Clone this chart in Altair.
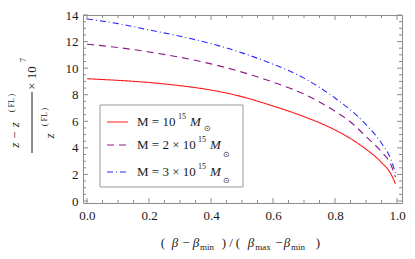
import altair as alt
import pandas as pd
import numpy as np

# ---- data ----
x_vals = [0.0, 0.1, 0.2, 0.3, 0.4, 0.5, 0.6, 0.7, 0.8, 0.85, 0.9, 0.95, 0.98, 0.995]
red_vals = [9.2, 9.08, 8.92, 8.68, 8.35, 7.85, 7.15, 6.35, 5.35, 4.7, 3.9, 2.9, 2.05, 1.3]
purple_vals = [11.8, 11.55, 11.22, 10.82, 10.32, 9.7, 8.95, 8.05, 6.75, 5.95, 4.85, 3.7, 2.75, 1.8]
blue_vals = [13.7, 13.35, 12.88, 12.4, 11.85, 11.15, 10.3, 9.25, 7.75, 6.85, 5.75, 4.35, 3.15, 2.1]
series_names = ["M1", "M2", "M3"]
x_major = [0.0, 0.2, 0.4, 0.6, 0.8, 1.0]
x_minor = [round(0.05 * i, 2) for i in range(21) if i % 4 != 0]
y_major = [0, 2, 4, 6, 8, 10, 12, 14]
y_minor = [0.5 * i for i in range(29) if i % 4 != 0]

rows = []
for name, vals in zip(series_names, [red_vals, purple_vals, blue_vals]):
    for xv, yv in zip(x_vals, vals):
        rows.append({"x": xv, "y": yv, "s": name})
df = pd.DataFrame(rows)

W, H = 319, 188
GRAY = "#8c8c8c"
INK = "#1a1a1a"
SERIF = "Liberation Serif"
DY = -2  # annotation vertical offset relative to previous layout

xscale = alt.Scale(domain=[-0.0129, 1.0161], nice=False, zero=False)
yscale = alt.Scale(domain=[-0.15, 14.0], nice=False, zero=False)

xaxis = alt.Axis(values=x_major, format=".1f", title=None, ticks=False, domain=False,
                 grid=False, labelFont=SERIF, labelFontSize=13, labelColor=INK, labelPadding=6)
yaxis = alt.Axis(values=y_major, title=None, ticks=False, domain=False, grid=False,
                 labelFont=SERIF, labelFontSize=13, labelColor=INK, labelPadding=5)

lines = alt.Chart(df).mark_line(strokeWidth=1.1, interpolate="monotone").encode(
    x=alt.X("x:Q", scale=xscale, axis=xaxis),
    y=alt.Y("y:Q", scale=yscale, axis=yaxis),
    color=alt.Color("s:N", scale=alt.Scale(domain=series_names,
                                           range=["#ff1a1a", "#8b1a8b", "#2b2bff"]), legend=None),
    strokeDash=alt.StrokeDash("s:N", scale=alt.Scale(domain=series_names,
                                                     range=[[1, 0], [7, 5], [6, 3, 1, 3]]), legend=None),
)


def xticks(vals, length):
    d = pd.DataFrame({"t": vals})
    bot = alt.Chart(d).mark_rule(color=GRAY, strokeWidth=1).encode(
        x=alt.X("t:Q", scale=xscale, axis=xaxis), y=alt.value(H), y2=alt.value(H - length))
    top = alt.Chart(d).mark_rule(color=GRAY, strokeWidth=1).encode(
        x=alt.X("t:Q", scale=xscale, axis=xaxis), y=alt.value(0), y2=alt.value(length))
    return [bot, top]


def yticks(vals, length):
    d = pd.DataFrame({"t": vals})
    left = alt.Chart(d).mark_rule(color=GRAY, strokeWidth=1).encode(
        y=alt.Y("t:Q", scale=yscale, axis=yaxis), x=alt.value(0), x2=alt.value(length))
    right = alt.Chart(d).mark_rule(color=GRAY, strokeWidth=1).encode(
        y=alt.Y("t:Q", scale=yscale, axis=yaxis), x=alt.value(W), x2=alt.value(W - length))
    return [left, right]


def txt(s, x, y, size=13, style="normal", angle=0, align="center"):
    return alt.Chart(alt.Data(values=[{}])).mark_text(
        text=s, font=SERIF, fontSize=size, fontStyle=style, angle=angle, align=align,
        baseline="middle", color=INK).encode(x=alt.value(x), y=alt.value(y + DY))


layers = [lines]
layers += xticks(x_major, 5) + xticks(x_minor, 3)
layers += yticks(y_major, 5) + yticks(y_minor, 3)

# legend box
layers.append(alt.Chart(alt.Data(values=[{}])).mark_rect(
    fill="white", stroke="#999999", strokeWidth=1).encode(
    x=alt.value(17), x2=alt.value(160), y=alt.value(92 + DY), y2=alt.value(174 + DY)))
legend_colors = ["#ff1a1a", "#8b1a8b", "#2b2bff"]
legend_dash = [[1, 0], [7, 5], [6, 3, 1, 3]]
legend_y = [109, 132, 159]
for c, dsh, ly in zip(legend_colors, legend_dash, legend_y):
    layers.append(alt.Chart(alt.Data(values=[{}])).mark_rule(
        color=c, strokeDash=dsh, strokeWidth=1.1).encode(
        x=alt.value(24), x2=alt.value(45), y=alt.value(ly + DY)))
# row 1
layers += [txt("M = 10", 54, 109, align="left"), txt("15", 95, 104, size=8, align="left"),
           txt("M", 107, 109, style="italic", align="left"), txt("⊙", 124, 116, size=8)]
# row 2
layers += [txt("M = 2 × 10", 54, 132, align="left"), txt("15", 115, 127, size=8, align="left"),
           txt("M", 127, 132, style="italic", align="left"), txt("⊙", 143, 142, size=8)]
# row 3
layers += [txt("M = 3 × 10", 54, 159, align="left"), txt("15", 115, 154, size=8, align="left"),
           txt("M", 127, 159, style="italic", align="left"), txt("⊙", 143, 168, size=8)]

# y title (fraction, rotated)
layers += [
    txt("z  −  z", -68, 122, style="italic", angle=270),
    txt("( FL )", -71, 90, size=8, angle=270),
    txt("z", -33, 123, style="italic", angle=270),
    txt("( FL )", -38, 104, size=8, angle=270),
    txt("× 10", -51, 65, angle=270),
    txt("7", -59, 47, size=8, angle=270),
]
layers.append(alt.Chart(alt.Data(values=[{}])).mark_rule(color=INK, strokeWidth=1).encode(
    x=alt.value(-51), y=alt.value(79 + DY), y2=alt.value(140 + DY)))

# x title
ty, sy = 230, 234
layers += [
    txt("(", 80, ty), txt("β", 92, ty, style="italic"), txt("−", 103, ty),
    txt("β", 113, ty, style="italic"), txt("min", 124, sy, size=9), txt(")", 141, ty),
    txt("/", 148, ty), txt("(", 155, ty), txt("β", 168, ty, style="italic"),
    txt("max", 180, sy, size=9), txt("−", 196, ty), txt("β", 204, ty, style="italic"),
    txt("min", 215, sy, size=9), txt(")", 235, ty),
]

chart = alt.layer(*layers).properties(
    width=W, height=H,
    autosize=alt.AutoSizeParams(type="none"),
    padding={"left": 75, "top": 7, "right": 5, "bottom": 50},
).configure_view(stroke=GRAY, strokeWidth=1)

chart.save("out.html", embed_options={"renderer": "svg", "actions": False})
